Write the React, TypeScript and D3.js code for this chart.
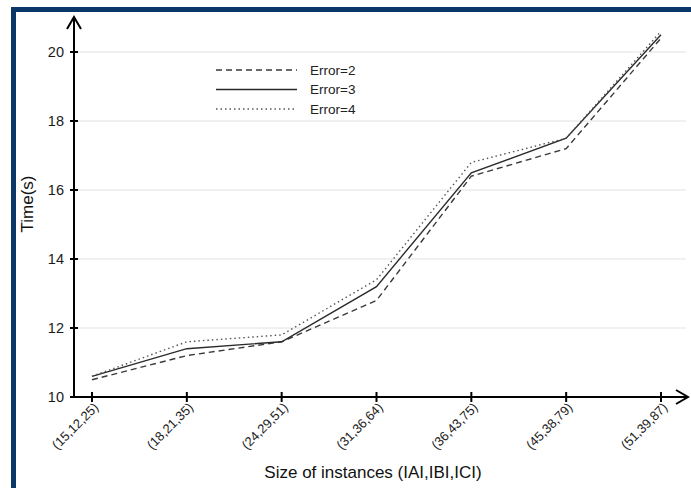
import React from 'react';
import * as d3 from 'd3';

const categories = ['(15,12,25)', '(18,21,35)', '(24,29,51)', '(31,36,64)', '(36,43,75)', '(45,38,79)', '(51,39,87)'];
const error2 = [10.5, 11.2, 11.6, 12.8, 16.4, 17.2, 20.4];
const error3 = [10.6, 11.4, 11.6, 13.2, 16.5, 17.5, 20.5];
const error4 = [10.6, 11.6, 11.8, 13.4, 16.8, 17.5, 20.6];
const yTicks = [10, 12, 14, 16, 18, 20];

const series = [
  { name: 'Error=2', values: error2, dash: '6,4', color: '#3a3a3a' },
  { name: 'Error=3', values: error3, dash: '', color: '#2a2a2a' },
  { name: 'Error=4', values: error4, dash: '1.5,3', color: '#555' },
];

const W = 691, H = 488;
const font = '"Liberation Sans", Arial, sans-serif';

export default function App() {
  const x = d3.scalePoint<string>().domain(categories).range([92, 661]);
  const y = d3.scaleLinear().domain([10, 20]).range([397, 52]);
  const x0 = 74, y0 = 397;

  const line = d3.line<number>()
    .x((_, i) => x(categories[i])!)
    .y(d => y(d));

  return (
    <div style={{ position: 'absolute', left: 0, top: 0 }}>
      <svg width={W} height={H} style={{ display: 'block', fontFamily: font }}>
        <rect width={W} height={H} fill="#fff" />
        {/* frame */}
        <rect x={11} y={7} width={W - 11} height={5} fill="#0b3668" />
        <rect x={11} y={7} width={5} height={H - 7} fill="#0b3668" />

        {/* grid */}
        {yTicks.filter(t => t > 10).map(t => (
          <line key={t} x1={x0} x2={686} y1={y(t)} y2={y(t)} stroke="#e2e2e2" strokeWidth={1.2} />
        ))}

        {/* series */}
        {series.map(s => (
          <path key={s.name} d={line(s.values)!} fill="none" stroke={s.color}
            strokeWidth={1.4} strokeDasharray={s.dash || undefined} />
        ))}

        {/* axes */}
        <line x1={x0} x2={x0} y1={y0 + 1} y2={17} stroke="#000" strokeWidth={2} />
        <polyline points={`${x0 - 7},29 ${x0},17 ${x0 + 7},29`} fill="none" stroke="#000" strokeWidth={2} />
        <line x1={x0 - 1} x2={688} y1={y0} y2={y0} stroke="#000" strokeWidth={2} />
        <polyline points={`676,390 688,${y0} 676,404`} fill="none" stroke="#000" strokeWidth={2} />

        {yTicks.map(t => (
          <g key={t}>
            <line x1={x0 - 4} x2={x0 + 4} y1={y(t)} y2={y(t)} stroke="#000" strokeWidth={2} />
            <text x={x0 - 10} y={y(t)} dy="0.36em" textAnchor="end" fontSize={14.5} fill="#1a1a1a">{t}</text>
          </g>
        ))}

        {categories.map(c => (
          <g key={c}>
            <line x1={x(c)} x2={x(c)} y1={y0 - 5} y2={y0 + 5} stroke="#000" strokeWidth={2} />
            <text transform={`translate(${x(c)! + 4},${y0 + 8}) rotate(-45)`} textAnchor="end"
              dy="0.35em" fontSize={13} fill="#222">{c}</text>
          </g>
        ))}

        <text x={373} y={478} textAnchor="middle" fontSize={17} fill="#111">Size of instances (IAI,IBI,ICI)</text>
        <text transform="translate(33,204) rotate(-90)" textAnchor="middle" fontSize={17} fill="#111">Time(s)</text>

        {/* legend */}
        {series.map((s, i) => (
          <g key={s.name} transform={`translate(216,${70 + i * 19.5})`}>
            <line x1={0} x2={81} y1={0} y2={0} stroke={s.color} strokeWidth={1.3} strokeDasharray={s.dash || undefined} />
            <text x={94} y={0} dy="0.35em" fontSize={13.5} fill="#222">{s.name}</text>
          </g>
        ))}
      </svg>
    </div>
  );
}
